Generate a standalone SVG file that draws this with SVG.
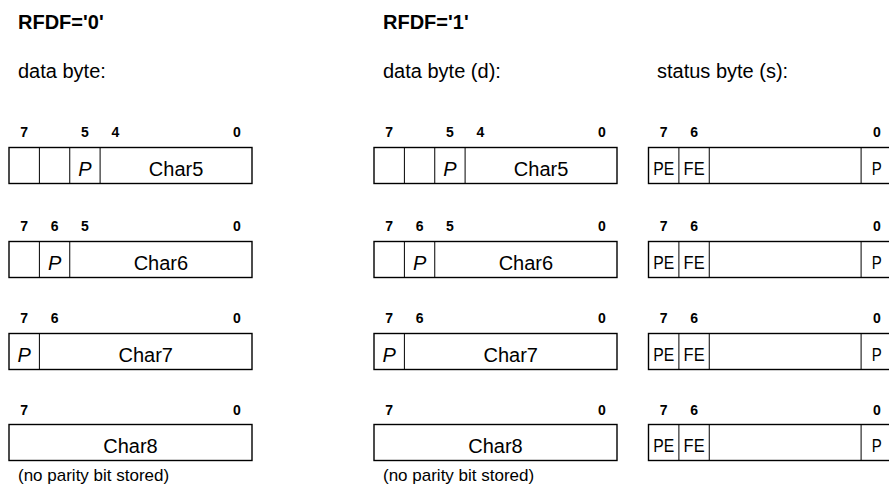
<svg xmlns="http://www.w3.org/2000/svg" width="889" height="489" viewBox="0 0 889 489">
<style>
text{font-family:"Liberation Sans",Arial,sans-serif;fill:#000}
.title{font-size:20px;font-weight:bold}
.sub{font-size:20px}
.bit{font-size:14px;font-weight:bold;text-anchor:middle}
.ch{font-size:20px;text-anchor:middle}
.p{font-size:20px;font-style:italic;text-anchor:middle}
.st{font-size:19px;text-anchor:middle}
.note{font-size:17px}
.box{fill:#fff;stroke:#000;stroke-width:1.4}
.div{stroke:#000;stroke-width:1}
</style>
<rect width="889" height="489" fill="#fff"/>
<g id="headers">
<text class="title" x="18" y="29">RFDF='0'</text>
<text class="title" x="383" y="29">RFDF='1'</text>
<text class="sub" x="18" y="78">data byte:</text>
<text class="sub" x="383" y="78">data byte (d):</text>
<text class="sub" x="657" y="78">status byte (s):</text>
</g>
<g id="col0-char5">
<text class="bit" x="24.2" y="137">7</text><text class="bit" x="84.9" y="137">5</text><text class="bit" x="115.3" y="137">4</text><text class="bit" x="236.8" y="137">0</text>
<rect class="box" x="9" y="147.5" width="243" height="36"/>
<line class="div" x1="39.4" y1="147.5" x2="39.4" y2="183.5"/><line class="div" x1="69.75" y1="147.5" x2="69.75" y2="183.5"/><line class="div" x1="100.1" y1="147.5" x2="100.1" y2="183.5"/>
<text class="p" x="84.9" y="175.5">P</text><text class="ch" x="176.1" y="175.5">Char5</text>
</g>
<g id="col0-char6">
<text class="bit" x="24.2" y="231">7</text><text class="bit" x="54.6" y="231">6</text><text class="bit" x="84.9" y="231">5</text><text class="bit" x="236.8" y="231">0</text>
<rect class="box" x="9" y="241.5" width="243" height="36"/>
<line class="div" x1="39.4" y1="241.5" x2="39.4" y2="277.5"/><line class="div" x1="69.75" y1="241.5" x2="69.75" y2="277.5"/>
<text class="p" x="54.6" y="269.5">P</text><text class="ch" x="160.9" y="269.5">Char6</text>
</g>
<g id="col0-char7">
<text class="bit" x="24.2" y="323">7</text><text class="bit" x="54.6" y="323">6</text><text class="bit" x="236.8" y="323">0</text>
<rect class="box" x="9" y="333.5" width="243" height="36"/>
<line class="div" x1="39.4" y1="333.5" x2="39.4" y2="369.5"/>
<text class="p" x="24.2" y="361.5">P</text><text class="ch" x="145.7" y="361.5">Char7</text>
</g>
<g id="col0-char8">
<text class="bit" x="24.2" y="414.5">7</text><text class="bit" x="236.8" y="414.5">0</text>
<rect class="box" x="9" y="424.5" width="243" height="36"/>
<text class="ch" x="130.5" y="452.5">Char8</text>
<text class="note" x="18" y="481">(no parity bit stored)</text>
</g>
<g id="col1-char5">
<text class="bit" x="389.2" y="137">7</text><text class="bit" x="449.9" y="137">5</text><text class="bit" x="480.3" y="137">4</text><text class="bit" x="601.8" y="137">0</text>
<rect class="box" x="374" y="147.5" width="243" height="36"/>
<line class="div" x1="404.4" y1="147.5" x2="404.4" y2="183.5"/><line class="div" x1="434.75" y1="147.5" x2="434.75" y2="183.5"/><line class="div" x1="465.1" y1="147.5" x2="465.1" y2="183.5"/>
<text class="p" x="449.9" y="175.5">P</text><text class="ch" x="541.1" y="175.5">Char5</text>
</g>
<g id="col1-char6">
<text class="bit" x="389.2" y="231">7</text><text class="bit" x="419.6" y="231">6</text><text class="bit" x="449.9" y="231">5</text><text class="bit" x="601.8" y="231">0</text>
<rect class="box" x="374" y="241.5" width="243" height="36"/>
<line class="div" x1="404.4" y1="241.5" x2="404.4" y2="277.5"/><line class="div" x1="434.75" y1="241.5" x2="434.75" y2="277.5"/>
<text class="p" x="419.6" y="269.5">P</text><text class="ch" x="525.9" y="269.5">Char6</text>
</g>
<g id="col1-char7">
<text class="bit" x="389.2" y="323">7</text><text class="bit" x="419.6" y="323">6</text><text class="bit" x="601.8" y="323">0</text>
<rect class="box" x="374" y="333.5" width="243" height="36"/>
<line class="div" x1="404.4" y1="333.5" x2="404.4" y2="369.5"/>
<text class="p" x="389.2" y="361.5">P</text><text class="ch" x="510.7" y="361.5">Char7</text>
</g>
<g id="col1-char8">
<text class="bit" x="389.2" y="414.5">7</text><text class="bit" x="601.8" y="414.5">0</text>
<rect class="box" x="374" y="424.5" width="243" height="36"/>
<text class="ch" x="495.5" y="452.5">Char8</text>
<text class="note" x="383" y="481">(no parity bit stored)</text>
</g>
<g id="status-1">
<text class="bit" x="663.7" y="137">7</text><text class="bit" x="694.1" y="137">6</text><text class="bit" x="876.8" y="137">0</text>
<rect class="box" x="648.5" y="147.5" width="243" height="36"/>
<line class="div" x1="678.9" y1="147.5" x2="678.9" y2="183.5"/><line class="div" x1="709.25" y1="147.5" x2="709.25" y2="183.5"/><line class="div" x1="861.1" y1="147.5" x2="861.1" y2="183.5"/>
<text class="st" x="663.7" y="174.5" textLength="21" lengthAdjust="spacingAndGlyphs">PE</text><text class="st" x="694.1" y="174.5" textLength="21" lengthAdjust="spacingAndGlyphs">FE</text><text class="st" x="876.8" y="174.5" textLength="10" lengthAdjust="spacingAndGlyphs">P</text>
</g>
<g id="status-2">
<text class="bit" x="663.7" y="231">7</text><text class="bit" x="694.1" y="231">6</text><text class="bit" x="876.8" y="231">0</text>
<rect class="box" x="648.5" y="241.5" width="243" height="36"/>
<line class="div" x1="678.9" y1="241.5" x2="678.9" y2="277.5"/><line class="div" x1="709.25" y1="241.5" x2="709.25" y2="277.5"/><line class="div" x1="861.1" y1="241.5" x2="861.1" y2="277.5"/>
<text class="st" x="663.7" y="268.5" textLength="21" lengthAdjust="spacingAndGlyphs">PE</text><text class="st" x="694.1" y="268.5" textLength="21" lengthAdjust="spacingAndGlyphs">FE</text><text class="st" x="876.8" y="268.5" textLength="10" lengthAdjust="spacingAndGlyphs">P</text>
</g>
<g id="status-3">
<text class="bit" x="663.7" y="323">7</text><text class="bit" x="694.1" y="323">6</text><text class="bit" x="876.8" y="323">0</text>
<rect class="box" x="648.5" y="333.5" width="243" height="36"/>
<line class="div" x1="678.9" y1="333.5" x2="678.9" y2="369.5"/><line class="div" x1="709.25" y1="333.5" x2="709.25" y2="369.5"/><line class="div" x1="861.1" y1="333.5" x2="861.1" y2="369.5"/>
<text class="st" x="663.7" y="360.5" textLength="21" lengthAdjust="spacingAndGlyphs">PE</text><text class="st" x="694.1" y="360.5" textLength="21" lengthAdjust="spacingAndGlyphs">FE</text><text class="st" x="876.8" y="360.5" textLength="10" lengthAdjust="spacingAndGlyphs">P</text>
</g>
<g id="status-4">
<text class="bit" x="663.7" y="414.5">7</text><text class="bit" x="694.1" y="414.5">6</text><text class="bit" x="876.8" y="414.5">0</text>
<rect class="box" x="648.5" y="424.5" width="243" height="36"/>
<line class="div" x1="678.9" y1="424.5" x2="678.9" y2="460.5"/><line class="div" x1="709.25" y1="424.5" x2="709.25" y2="460.5"/><line class="div" x1="861.1" y1="424.5" x2="861.1" y2="460.5"/>
<text class="st" x="663.7" y="451.5" textLength="21" lengthAdjust="spacingAndGlyphs">PE</text><text class="st" x="694.1" y="451.5" textLength="21" lengthAdjust="spacingAndGlyphs">FE</text><text class="st" x="876.8" y="451.5" textLength="10" lengthAdjust="spacingAndGlyphs">P</text>
</g>
</svg>
